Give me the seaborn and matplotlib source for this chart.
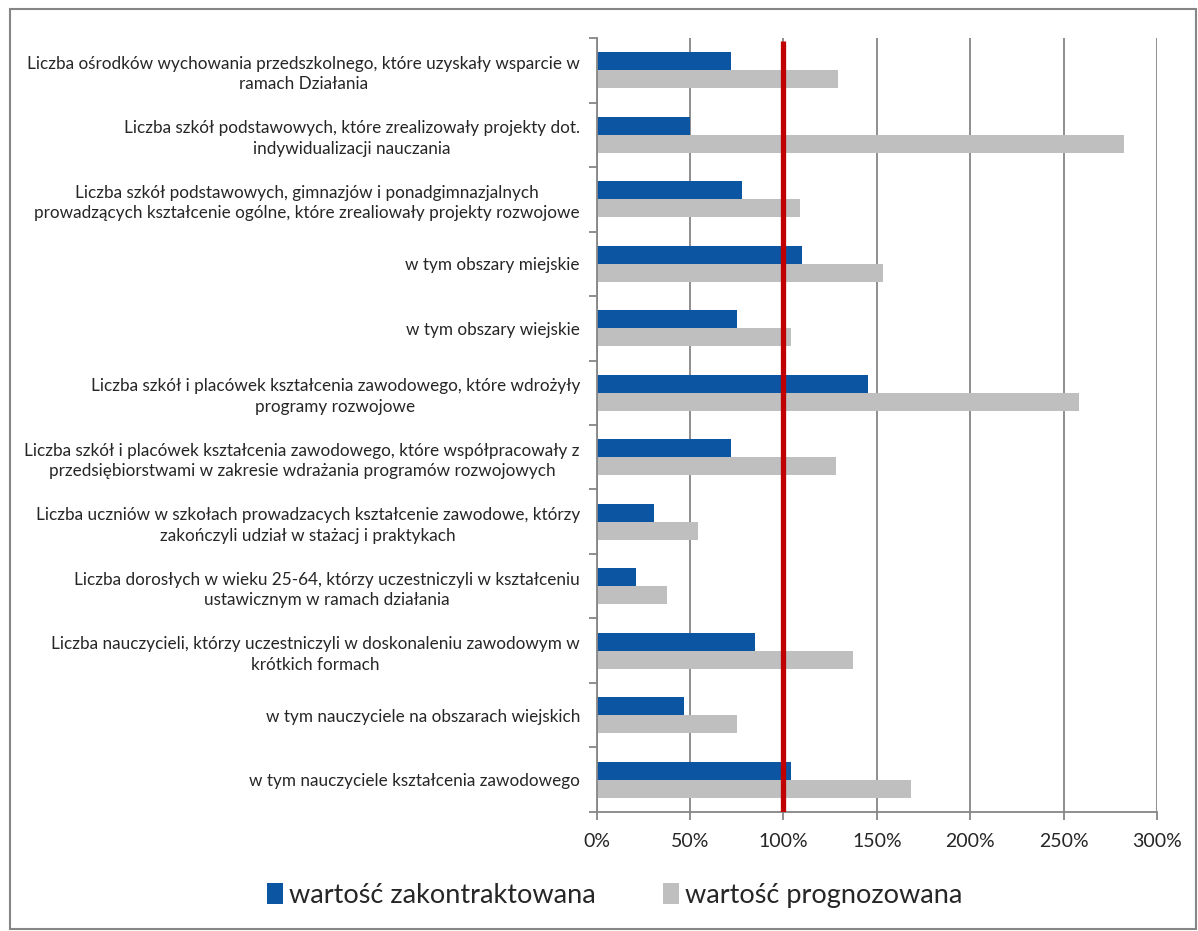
import pandas as pd
import matplotlib.pyplot as plt
import seaborn as sns
from matplotlib.ticker import FixedLocator, PercentFormatter
from matplotlib.patches import Rectangle

categories = [
    "Liczba ośrodków wychowania przedszkolnego, które uzyskały wsparcie w\nramach Działania",
    "Liczba szkół podstawowych, które zrealizowały projekty dot.\nindywidualizacji nauczania",
    "Liczba szkół podstawowych, gimnazjów i ponadgimnazjalnych\nprowadzących kształcenie ogólne, które zrealiowały projekty rozwojowe",
    "w tym obszary miejskie",
    "w tym obszary wiejskie",
    "Liczba szkół i placówek kształcenia zawodowego, które wdrożyły\nprogramy rozwojowe",
    "Liczba szkół i placówek kształcenia zawodowego, które współpracowały z\nprzedsiębiorstwami w zakresie wdrażania programów rozwojowych",
    "Liczba uczniów w szkołach prowadzacych kształcenie zawodowe, którzy\nzakończyli udział w stażacj i praktykach",
    "Liczba dorosłych w wieku 25-64, którzy uczestniczyli w kształceniu\nustawicznym w ramach działania",
    "Liczba nauczycieli, którzy uczestniczyli w doskonaleniu zawodowym w\nkrótkich formach",
    "w tym nauczyciele na obszarach wiejskich",
    "w tym nauczyciele kształcenia zawodowego",
]

contracted = [72, 50, 78, 110, 75, 145, 72, 30.5, 21, 85, 47, 104]
forecast = [129, 282, 109, 153, 104, 258, 128, 54, 37.5, 137, 75, 168]

series_names = ["wartość zakontraktowana", "wartość prognozowana"]
target = 100

df = pd.DataFrame({
    "kategoria": categories * 2,
    "wartosc": contracted + forecast,
    "seria": [series_names[0]] * len(categories) + [series_names[1]] * len(categories),
})

sns.set_style("white")
plt.rcParams["font.family"] = ["Lato", "DejaVu Sans"]

fig = plt.figure(figsize=(11.98, 9.31), dpi=100)
ax = fig.add_axes([0.498, 0.128, 0.468, 0.831])

sns.barplot(data=df, y="kategoria", x="wartosc", hue="seria", orient="h",
            palette=["#0B55A3", "#BFBFBF"], saturation=1, width=0.56, ax=ax,
            edgecolor="none", linewidth=0, zorder=2)

# red 100% line
ax.axvline(target, ymin=0, ymax=0.996, color="#C00000", lw=3.8, zorder=3,
           solid_capstyle="butt")

ax.set_xlim(0, 300)
ax.set_ylim(len(categories) - 0.5, -0.5)
ax.set_xticks(range(0, 301, 50))
ax.xaxis.set_major_formatter(PercentFormatter(decimals=0))
ax.grid(axis="x", color="#868686", lw=1.3, zorder=0)
ax.set_axisbelow(True)
ax.set_xlabel("")
ax.set_ylabel("")

for s in ["top", "right"]:
    ax.spines[s].set_visible(False)
for s in ["left", "bottom"]:
    ax.spines[s].set_color("#868686")
    ax.spines[s].set_linewidth(1.3)

ax.tick_params(axis="x", which="major", direction="out", length=6, width=1.3,
               color="#868686", labelsize=14, pad=9, bottom=True)
ax.tick_params(axis="y", which="major", length=0, labelsize=12.3, pad=12)
ax.yaxis.set_minor_locator(FixedLocator([i - 0.5 for i in range(len(categories) + 1)]))
ax.tick_params(axis="y", which="minor", direction="out", length=6, width=1.3,
               color="#868686", left=True)
for lbl in ax.get_yticklabels():
    lbl.set_multialignment("center")
    lbl.set_linespacing(1.35)

leg = ax.legend(loc="center", bbox_to_anchor=(0.513, 0.038), bbox_transform=fig.transFigure,
                ncol=2, frameon=False, fontsize=19.5, handlelength=0.6, handleheight=0.8,
                handletextpad=0.2, columnspacing=2.5)

fig.patches.append(Rectangle((0.008, 0.002), 0.99, 0.988, transform=fig.transFigure,
                             fill=False, edgecolor="#868686", lw=1.5))

plt.savefig("out.png", dpi=100)
plt.close()
